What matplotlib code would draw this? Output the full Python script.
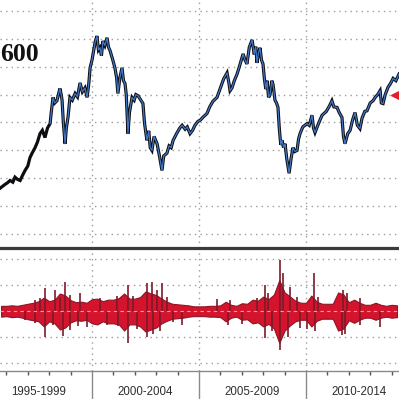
import numpy as np
import matplotlib
matplotlib.use("Agg")
import matplotlib.pyplot as plt
from matplotlib.ticker import FixedLocator, NullFormatter

# ---------------- data ----------------
idx_year = [1995.70, 1995.90, 1996.05, 1996.17, 1996.30, 1996.40, 1996.52, 1996.64, 1996.75, 1996.87,
            1997.00, 1997.10, 1997.20, 1997.34, 1997.45, 1997.57, 1997.68, 1997.80, 1997.92, 1998.04,
            1998.10, 1998.18, 1998.26, 1998.36, 1998.44, 1998.50, 1998.56, 1998.60, 1998.66, 1998.74,
            1998.80, 1998.88, 1998.97, 1999.08, 1999.21, 1999.32, 1999.44, 1999.55, 1999.67, 1999.77,
            1999.85, 1999.91, 2000.00, 2000.05, 2000.15, 2000.23, 2000.30, 2000.37, 2000.44, 2000.51,
            2000.60, 2000.70, 2000.77, 2000.84, 2000.95, 2001.07, 2001.15, 2001.21, 2001.30, 2001.40,
            2001.47, 2001.54, 2001.60, 2001.68, 2001.75, 2001.87, 2001.97, 2002.05, 2002.15, 2002.25,
            2002.38, 2002.45, 2002.52, 2002.57, 2002.65, 2002.72, 2002.80, 2002.90, 2003.04, 2003.15,
            2003.27, 2003.35, 2003.50, 2003.60, 2003.70, 2003.79, 2003.95, 2004.10, 2004.21, 2004.35,
            2004.45, 2004.58, 2004.70, 2004.81, 2004.95, 2005.05, 2005.20, 2005.37, 2005.50, 2005.65,
            2005.84, 2005.98, 2006.15, 2006.31, 2006.40, 2006.45, 2006.54, 2006.65, 2006.78, 2006.90,
            2007.06, 2007.15, 2007.24, 2007.35, 2007.48, 2007.58, 2007.65, 2007.71, 2007.78, 2007.85,
            2007.92, 2007.99, 2008.05, 2008.12, 2008.18, 2008.25, 2008.32, 2008.40, 2008.46, 2008.55,
            2008.62, 2008.69, 2008.75, 2008.82, 2008.88, 2008.95, 2009.02, 2009.10, 2009.21, 2009.30,
            2009.39, 2009.48, 2009.58, 2009.65, 2009.72, 2009.85, 2010.05, 2010.15, 2010.28, 2010.35,
            2010.42, 2010.55, 2010.75, 2010.95, 2011.10, 2011.21, 2011.30, 2011.45, 2011.55, 2011.68,
            2011.75, 2011.82, 2011.95, 2012.06, 2012.18, 2012.29, 2012.40, 2012.52, 2012.62, 2012.75,
            2012.85, 2013.00, 2013.13, 2013.25, 2013.35, 2013.46, 2013.52, 2013.60, 2013.70, 2013.83,
            2013.95, 2014.07, 2014.20, 2014.35]
idx_value = [132, 138, 142, 146, 143, 152, 148, 146, 155, 164,
             172, 187, 195, 205, 215, 230, 236, 223, 240, 248,
             270, 295, 285, 289, 302, 311, 300, 290, 250, 212,
             240, 260, 295, 290, 302, 296, 321, 305, 312, 295,
             320, 348, 362, 373, 395, 405, 380, 384, 370, 396,
             388, 402, 385, 379, 365, 348, 330, 302, 330, 348,
             325, 320, 300, 230, 268, 295, 290, 300, 298, 292,
             284, 250, 230, 218, 235, 205, 200, 225, 212, 190,
             164, 190, 195, 208, 205, 218, 230, 240, 245, 238,
             242, 230, 236, 245, 252, 254, 260, 266, 278, 288,
             295, 310, 328, 339, 320, 307, 312, 325, 337, 352,
             373, 362, 355, 385, 398, 372, 386, 357, 375, 384,
             362, 355, 330, 310, 325, 295, 300, 325, 318, 290,
             285, 277, 240, 210, 218, 205, 212, 185, 159, 185,
             205, 198, 200, 220, 230, 242, 248, 245, 263, 240,
             232, 245, 263, 270, 280, 289, 278, 277, 268, 259,
             225, 212, 230, 236, 255, 268, 245, 239, 258, 270,
             271, 285, 289, 296, 300, 307, 285, 284, 300, 313,
             320, 329, 325, 337]
blue_from_year = 1998.0

# quarterly envelope of daily % returns (1995 Q4 .. 2014 Q2)
q_year = np.arange(1995.75, 2014.5, 0.25)
ret_hi = [1.0,
          1.0, 1.1, 1.0, 1.2,
          1.4, 1.6, 1.9, 2.6,
          1.9, 2.2, 3.4, 3.0,
          2.1, 1.7, 1.8, 1.6,
          2.3, 2.4, 1.9, 2.2,
          2.2, 2.5, 3.4, 2.4,
          2.4, 2.7, 3.8, 3.4,
          3.1, 2.4, 1.8, 1.4,
          1.3, 1.2, 1.1, 0.9,
          0.9, 0.9, 1.0, 1.0,
          1.1, 1.8, 1.2, 1.0,
          1.5, 1.4, 2.2, 2.0,
          2.8, 2.3, 3.2, 6.0,
          3.6, 2.8, 2.0, 1.6,
          1.6, 3.0, 1.8, 1.4,
          1.4, 1.4, 3.6, 3.2,
          1.7, 2.2, 1.6, 1.2,
          1.2, 1.6, 1.2, 1.0,
          1.2, 1.1]
ret_lo = [-1.1,
          -1.0, -1.2, -1.1, -1.3,
          -1.6, -1.8, -2.0, -3.0,
          -2.0, -2.4, -3.6, -3.2,
          -2.2, -1.8, -1.9, -1.7,
          -2.4, -2.6, -2.0, -2.4,
          -2.4, -2.6, -3.8, -2.6,
          -2.6, -3.0, -4.0, -3.6,
          -3.2, -2.4, -1.9, -1.5,
          -1.4, -1.3, -1.1, -1.0,
          -1.0, -1.0, -1.1, -1.1,
          -1.2, -2.0, -1.3, -1.1,
          -1.7, -1.6, -2.4, -2.2,
          -3.0, -2.5, -3.4, -6.2,
          -3.8, -2.8, -2.0, -1.7,
          -1.7, -3.0, -1.9, -1.5,
          -1.5, -1.5, -3.8, -3.4,
          -1.8, -2.3, -1.7, -1.3,
          -1.3, -1.7, -1.3, -1.1,
          -1.3, -1.2]

spike_year = [1996.87, 1997.34, 1997.34, 1997.57, 1997.80, 1997.80, 1998.18, 1998.27, 1998.50, 1998.64,
              1998.74, 1998.97, 1998.97, 1999.35, 1999.44, 1999.77, 2000.37, 2000.70, 2001.17, 2001.21,
              2001.68, 2001.68, 2001.92, 2002.10, 2002.57, 2002.57, 2002.80, 2002.85, 2003.04, 2003.18,
              2003.27, 2003.50, 2003.79, 2004.21, 2005.84, 2006.36, 2006.45, 2007.01, 2007.71, 2008.08,
              2008.08, 2008.22, 2008.41, 2008.79, 2008.79, 2008.93, 2009.16, 2009.25, 2009.58, 2009.72,
              2010.05, 2010.37, 2010.42, 2010.56, 2011.68, 2011.73, 2011.82, 2011.92, 2012.52, 2012.52,
              2013.46]
spike_value = [-1.8, 2.1, -2.3, 2.5, 4.5, -5.0, -2.8, 4.0, 2.7, -4.8,
               5.6, 3.2, -3.7, -2.9, 3.5, -3.2, 2.5, -2.7, 2.9, -2.9,
               5.0, -6.2, 3.0, -3.5, 5.4, -5.0, 5.6, -4.5, 4.0, -3.9,
               5.4, 2.7, -2.2, -2.8, 2.3, -2.8, 2.2, -2.5, 2.5, 5.0,
               -5.3, 3.5, -3.9, 9.9, -7.6, 7.4, -5.0, 4.7, 2.8, -3.3,
               -3.5, 7.4, -3.9, 2.8, -4.7, 4.0, -4.5, 3.5, 2.5, -2.8,
               -3.2]

period_labels = ["1995-1999", "2000-2004", "2005-2009", "2010-2014"]
period_centers = [1997.5, 2002.5, 2007.5, 2012.5]
period_bounds = [2000, 2005, 2010]
year_ticks = list(range(1996, 2015))
marker_value = 300

# ---------------- figure ----------------
W = H = 399
fig = plt.figure(figsize=(W / 100, H / 100), dpi=100)
fig.patch.set_facecolor("white")

XL = (1995.70, 2014.345)
ax1 = fig.add_axes([0, 1 - 248 / H, 1, 248 / H])
ax2 = fig.add_axes([0, 1 - 371 / H, 1, 123 / H])

grid_kw = dict(color="#9c9c9c", lw=1.0, linestyle=(0, (1, 3)), zorder=0)

# top panel
ax1.set_xlim(*XL)
ax1.set_ylim(25, 469.6)
for v in range(50, 451, 50):
    ax1.axhline(v, **grid_kw)
for b in period_bounds:
    ax1.axvline(b, **grid_kw)
yr = np.array(idx_year)
vals = np.array(idx_value)
ax1.plot(yr, vals, color="#0d0d12", lw=2.3, zorder=3, solid_joinstyle="miter")
m = yr >= blue_from_year
ax1.plot(yr[m], vals[m], color="#4277c4", lw=0.9, zorder=4)
ax1.plot([2014.33], [marker_value], marker="<", ms=11, color="#e41f2b",
         clip_on=False, zorder=5, lw=0)
for s in ax1.spines.values():
    s.set_visible(False)
ax1.tick_params(left=False, bottom=False, labelleft=False, labelbottom=False)

# bottom panel
ax2.set_xlim(*XL)
ax2.set_ylim(-11.65, 12.23)
ax2.patch.set_visible(False)
for v in (-10, -5, 5, 10):
    ax2.axhline(v, **grid_kw)
for b in period_bounds:
    ax2.axvline(b, **grid_kw)
ax2.fill_between(q_year, ret_lo, ret_hi, color="#d3142c", lw=0.8,
                 edgecolor="#8e1426", zorder=2)
ax2.vlines(spike_year, 0, spike_value, color="#7d1a2a", lw=1.2, zorder=3)
ax2.axhline(0, color="#f2a0a8", lw=0.8, linestyle=(0, (3, 3)), zorder=4)

for k in ("left", "right"):
    ax2.spines[k].set_visible(False)
ax2.spines["top"].set_color("#3b3b3b")
ax2.spines["top"].set_linewidth(2.3)
ax2.spines["top"].set_zorder(6)
ax2.spines["bottom"].set_color("#8a8a8a")
ax2.spines["bottom"].set_linewidth(1.0)

ax2.xaxis.set_major_locator(FixedLocator(period_bounds))
ax2.xaxis.set_minor_locator(FixedLocator(year_ticks))
ax2.xaxis.set_major_formatter(NullFormatter())
ax2.tick_params(axis="x", which="major", direction="out", length=22, width=1.0,
                color="#8a8a8a")
ax2.tick_params(axis="x", which="minor", direction="out", length=3, width=1.0,
                color="#555555")
ax2.tick_params(left=False, labelleft=False)

tr = ax2.get_xaxis_transform()
for lab, c in zip(period_labels, period_centers):
    ax2.text(c, -21 / 123, lab, transform=tr, ha="center", va="center",
             fontsize=8.3, family="Liberation Sans", color="#2e2e2e")

fig.text(0.0, 1 - 61 / H, "600", fontsize=18.5, family="Liberation Serif",
         weight="bold", ha="left", va="baseline", color="#111111")

fig.savefig("out.png", dpi=100, facecolor="white")
